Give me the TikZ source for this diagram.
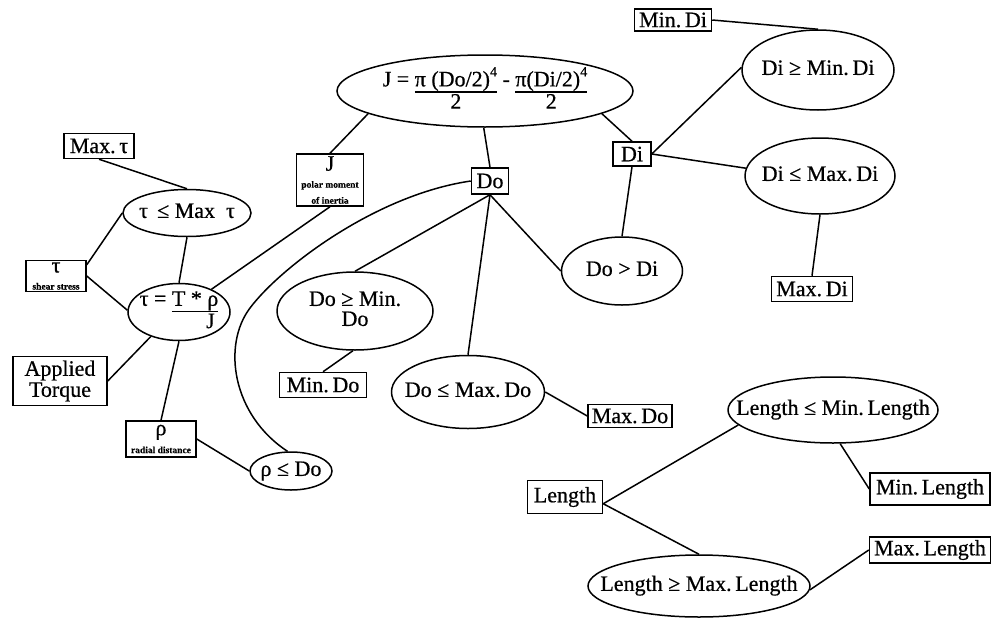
\documentclass[tikz,border=0pt]{standalone}
\usepackage{fontspec}
\setmainfont{Liberation Serif}[FakeBold=0.6]
\usetikzlibrary{shapes.geometric}
\setlength{\arrayrulewidth}{1.3pt}
\newcommand{\myfr}[3][c]{\begin{tabular}[t]{@{}#1@{}}#2\\[-2pt]\hline #3\end{tabular}}
\newcommand{\tinytxt}[1]{{\fontsize{9.5}{9.5}\bfseries #1}}
\newcommand{\supfour}{\raisebox{10pt}{\fontsize{14}{14}\selectfont 4}}
% zero-size text box, so the ellipse keeps its given size
\newcommand{\zb}[1]{\makebox[0pt]{\smash{\raisebox{-0.25em}{$\vcenter{\hbox{\begin{tabular}{@{}c@{}}#1\end{tabular}}}$}}}}
\begin{document}
\begin{tikzpicture}[x=1pt,y=-1pt,line width=1.5pt,
  lbl/.style={font=\fontsize{22}{23}\selectfont,align=center},
  box/.style={lbl,draw,rectangle,inner sep=0pt},
  ell/.style={lbl,draw,ellipse,inner sep=0pt}]
\useasboundingbox (0,0) rectangle (992,621);
% left cluster
\node[box,minimum width=70pt,minimum height=25pt] (maxtau) at (99,146) {Max.\,τ};
\node[ell,minimum width=128pt,minimum height=47pt] (tauell) at (187,213) {\zb{τ \,≤ Max\enspace τ}};
\node[box,minimum width=60pt,minimum height=31pt] (taubox) at (56,276) {τ\\[-6pt]\tinytxt{shear stress}};
\node[ell,minimum width=102pt,minimum height=57pt] (taueq) at (179,312) {\zb{τ = \myfr[r]{T * ρ}{J\,}}};
\node[box,minimum width=94pt,minimum height=49pt] (torque) at (60,381) {Applied\\[-2pt]Torque};
\node[box,minimum width=70pt,minimum height=36pt] (rhobox) at (161,439) {ρ\\[-5pt]\tinytxt{radial distance}};
\node[ell,minimum width=82pt,minimum height=38pt] (rhodo) at (291,471) {\zb{ρ ≤ Do}};
\node[box,minimum width=67pt,minimum height=52pt] (Jbox) at (330,180) {J\\[-6pt]\tinytxt{polar moment}\\[-7pt]\tinytxt{of inertia}};
% top formula
\node[ell,minimum width=296pt,minimum height=72pt] (Jell) at (485,91) {\zb{J = \myfr{π (Do/2)\supfour}{2} - \myfr{π(Di/2)\supfour}{2}}};
\node[box,minimum width=37pt,minimum height=26pt] (Do) at (490,181) {Do};
\node[box,minimum width=38pt,minimum height=24pt] (Di) at (632,154) {Di};
% Di branch
\node[box,minimum width=77pt,minimum height=22pt] (MinDi) at (673,20) {Min.\,Di};
\node[ell,minimum width=152pt,minimum height=80pt] (DiMin) at (818,70) {\zb{Di ≥ Min.\,Di}};
\node[ell,minimum width=150pt,minimum height=76pt] (DiMax) at (820,176) {\zb{Di ≤ Max.\,Di}};
\node[box,minimum width=81pt,minimum height=25pt] (MaxDi) at (812,289) {Max.\,Di};
\node[ell,minimum width=121pt,minimum height=68pt] (DoDi) at (622,271) {\zb{Do > Di}};
% Do branch
\node[ell,minimum width=156pt,minimum height=78pt] (DoMin) at (355,311) {\zb{Do ≥ Min.\\[-3pt]Do}};
\node[box,minimum width=87pt,minimum height=25pt] (MinDo) at (323,385) {Min.\,Do};
\node[ell,minimum width=153pt,minimum height=73pt] (DoMax) at (468,392) {\zb{Do ≤ Max.\,Do}};
\node[box,minimum width=84pt,minimum height=23pt] (MaxDo) at (630,416) {Max.\,Do};
% Length branch
\node[box,minimum width=75pt,minimum height=33pt] (Length) at (565,497) {Length};
\node[ell,minimum width=210pt,minimum height=66pt] (LMin) at (833,410) {\zb{Length ≤ Min.\,Length}};
\node[box,minimum width=120pt,minimum height=32pt] (MinL) at (930,489) {Min.\,Length};
\node[ell,minimum width=222pt,minimum height=62pt] (LMax) at (699,586) {\zb{Length ≥ Max.\,Length}};
\node[box,minimum width=121pt,minimum height=26pt] (MaxL) at (930,550) {Max.\,Length};
% connectors
\draw (maxtau.south) -- (tauell.north);
\draw (tauell.west) -- (taubox.20);
\draw (taubox.east) -- (taueq.178);
\draw (tauell.south) -- (taueq.north);
\draw (taueq.35) -- (Jbox.south);
\draw (Jbox.north) -- (Jell.191);
\draw (taueq.221) -- (torque.east);
\draw (taueq.south) -- (rhobox.north);
\draw (rhobox.east) -- (rhodo.west);
\draw (rhodo.100) .. controls (232,415) and (222,345) .. (250,308)
      .. controls (280,268) and (375,195) .. (Do.west);
\draw (Jell.268) -- (Do.north);
\draw (Jell.349) -- (Di.north);
\draw (Do.south) -- (DoMin.north);
\draw (Do.south) -- (DoMax.north);
\draw (Do.south) -- (DoDi.west);
\draw (DoMin.267) -- (MinDo.north);
\draw (DoMax.east) -- (MaxDo.west);
\draw (Di.south) -- (DoDi.north);
\draw (Di.east) -- (DiMin.178);
\draw (Di.east) -- (DiMax.174);
\draw (MinDi.east) -- (DiMin.north);
\draw (DiMax.south) -- (MaxDi.north);
\draw (Length.-10) -- (LMin.189);
\draw (Length.-10) -- (LMax.north);
\draw (LMin.282) -- (MinL.west);
\draw (LMax.358) -- (MaxL.west);
\end{tikzpicture}
\end{document}
